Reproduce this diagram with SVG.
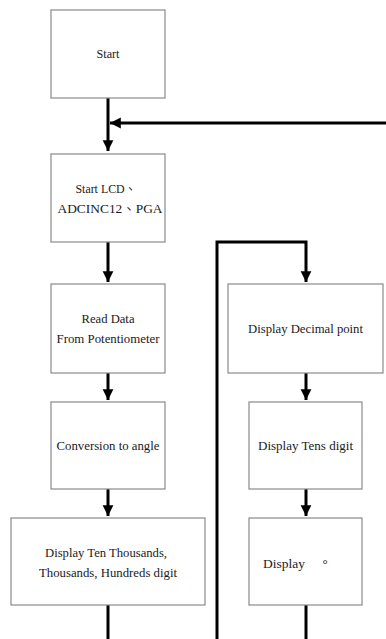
<svg xmlns="http://www.w3.org/2000/svg" width="386" height="639" viewBox="0 0 386 639">
<defs>
<marker id="ah" viewBox="0 0 10 10" refX="10" refY="5" markerWidth="3.6" markerHeight="4" orient="auto" markerUnits="strokeWidth">
<path d="M0,0 L10,5 L0,10 Z" fill="#000"/>
</marker>
</defs>
<style>
rect.n{fill:#fff;stroke:#8a8a8a;stroke-width:1.2}
text{font-family:'Liberation Serif','Times New Roman','Noto Sans CJK TC',serif;font-size:13px;fill:#1a1a1a;text-anchor:middle}
.c{fill:none;stroke:#000;stroke-width:3}
</style>
<rect width="386" height="639" fill="#fff"/>
<g id="connectors">
<path class="c" d="M108,98 V151" marker-end="url(#ah)"/>
<path class="c" d="M386,123 H110" marker-end="url(#ah)"/>
<path class="c" d="M108,242 V282" marker-end="url(#ah)"/>
<path class="c" d="M108,373 V400" marker-end="url(#ah)"/>
<path class="c" d="M108,489 V516" marker-end="url(#ah)"/>
<path class="c" d="M108,605 V639"/>
<path class="c" d="M217,639 V242 H306 V282" marker-end="url(#ah)"/>
<path class="c" d="M306,373 V400" marker-end="url(#ah)"/>
<path class="c" d="M306,489 V516" marker-end="url(#ah)"/>
<path class="c" d="M306,605 V639"/>
</g>
<g id="start">
<rect class="n" x="51" y="10" width="114" height="88"/>
<text x="108" y="58" textLength="23" lengthAdjust="spacingAndGlyphs">Start</text>
</g>
<g id="init">
<rect class="n" x="51" y="154" width="114" height="88"/>
<text x="106" y="193" textLength="61" lengthAdjust="spacingAndGlyphs">Start LCD、</text>
<text x="110" y="213" textLength="105" lengthAdjust="spacingAndGlyphs">ADCINC12、PGA</text>
</g>
<g id="read">
<rect class="n" x="51" y="284" width="114" height="89"/>
<text x="108" y="323" textLength="53" lengthAdjust="spacingAndGlyphs">Read Data</text>
<text x="108" y="343" textLength="103" lengthAdjust="spacingAndGlyphs">From Potentiometer</text>
</g>
<g id="convert">
<rect class="n" x="51" y="402" width="114" height="87"/>
<text x="108" y="450" textLength="103" lengthAdjust="spacingAndGlyphs">Conversion to angle</text>
</g>
<g id="display-high">
<rect class="n" x="11" y="518" width="194" height="87"/>
<text x="106" y="557" textLength="122" lengthAdjust="spacingAndGlyphs">Display Ten Thousands,</text>
<text x="108" y="577" textLength="138" lengthAdjust="spacingAndGlyphs">Thousands, Hundreds digit</text>
</g>
<g id="decimal">
<rect class="n" x="228" y="284" width="155" height="89"/>
<text x="305.5" y="333" textLength="115" lengthAdjust="spacingAndGlyphs">Display Decimal point</text>
</g>
<g id="tens">
<rect class="n" x="249" y="402" width="113" height="87"/>
<text x="305.5" y="450" textLength="95" lengthAdjust="spacingAndGlyphs">Display Tens digit</text>
</g>
<g id="degree">
<rect class="n" x="249" y="518" width="113" height="87"/>
<text x="284" y="568" textLength="42" lengthAdjust="spacingAndGlyphs">Display</text>
<text x="325" y="568">°</text>
</g>
</svg>
